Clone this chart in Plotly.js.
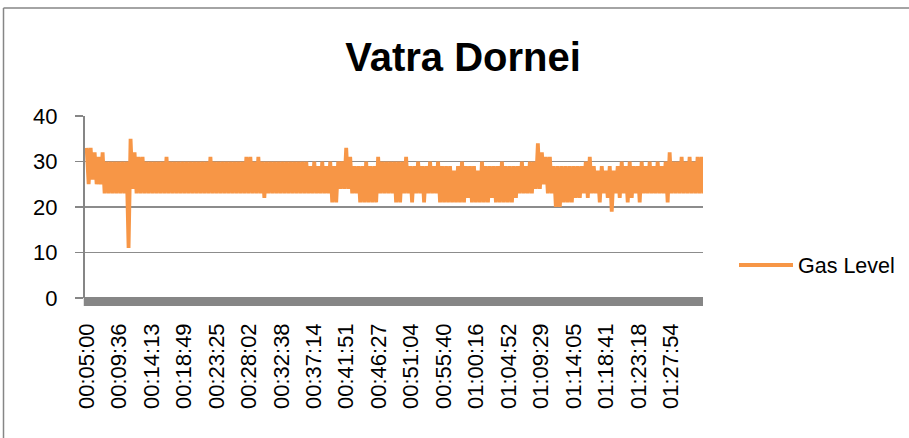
<!DOCTYPE html>
<html>
<head>
<meta charset="utf-8">
<script src="https://cdn.plot.ly/plotly-3.0.1.min.js"></script>
<style>
html,body{margin:0;padding:0;background:#fff;}
#chart{width:909px;height:438px;}
</style>
</head>
<body>
<div id="chart"></div>
<script>
// Chart title and series name
const chartTitle = "Vatra Dornei";
const seriesName = "Gas Level";

// Sample timing (seconds since 00:00:00): first sample and spacing between plotted samples
const startSec = 300;   // 00:05:00
const stepSec = 17;

// Gas level readings
const gasLevel = [
  33,25,33,26,32,25,31,25,32,23,30,23,30,23,30,23,30,23,30,23,
  30,11,35,24,32,23,31,23,31,23,30,23,30,23,30,23,30,23,30,23,
  31,23,30,23,30,23,30,23,30,23,30,23,30,23,30,23,30,23,30,23,
  30,23,31,23,30,23,30,23,30,23,30,23,30,23,30,23,30,23,30,23,
  31,23,31,23,30,23,31,23,30,22,30,23,30,23,30,23,30,23,30,23,
  30,23,30,23,30,23,30,23,30,23,30,23,29,23,30,23,29,23,30,23,
  29,23,30,21,29,21,30,24,30,24,33,24,31,23,29,23,29,21,29,21,
  30,21,29,21,29,21,31,23,30,23,30,23,30,23,30,21,30,21,30,23,
  31,23,29,21,29,23,30,23,29,21,29,23,30,23,29,23,30,21,29,21,
  29,21,29,21,28,21,29,21,30,21,29,22,29,21,29,21,28,21,30,21,
  29,21,29,22,29,21,29,21,30,21,29,21,29,21,29,22,29,23,30,23,
  29,23,30,23,30,24,34,24,32,25,31,23,31,23,29,20,29,20,29,21,
  29,21,29,21,29,22,29,22,29,23,30,22,31,23,29,23,28,21,29,23,
  28,22,29,19,28,23,29,22,30,23,29,21,30,22,29,23,29,21,30,23,
  29,23,30,23,29,23,30,23,29,23,30,21,32,23,30,23,30,23,31,23,
  30,23,31,23,30,23,31,23,31,23
];

// Category axis labels shown on the time axis
const timeLabels = [
  "00:05:00","00:09:36","00:14:13","00:18:49","00:23:25","00:28:02","00:32:38",
  "00:37:14","00:41:51","00:46:27","00:51:04","00:55:40","01:00:16","01:04:52",
  "01:09:29","01:14:05","01:18:41","01:23:18","01:27:54"
];

// Y axis ticks
const yTicks = [0, 10, 20, 30, 40];

function toSec(s){ const p = s.split(":").map(Number); return p[0]*3600 + p[1]*60 + p[2]; }
const xTimes = gasLevel.map((_, i) => startSec + i * stepSec);
const tickVals = timeLabels.map(toSec);

const font = "Liberation Sans, Arial, sans-serif";
const gray = "#868686";

const trace = {
  type: "scatter",
  mode: "lines",
  name: seriesName,
  x: xTimes,
  y: gasLevel,
  line: {color: "#F79646", width: 3.8}
};

// plot area: 85..703 px horizontally, 116..298 px vertically
const plotH = 182;
const layout = {
  width: 909, height: 438,
  margin: {l: 85, r: 206, t: 116, b: 140, pad: 0, autoexpand: false},
  paper_bgcolor: "#fff", plot_bgcolor: "#fff",
  font: {family: font, size: 22, color: "#000"},
  title: {
    text: "<b>" + chartTitle + "</b>",
    font: {family: font, size: 40, color: "#000"},
    xref: "paper", x: (463 - 85) / 618, xanchor: "center",
    yref: "container", y: 1 - 57 / 438, yanchor: "middle",
    automargin: false
  },
  xaxis: {
    type: "linear",
    range: [286, 5548],
    tickvals: tickVals,
    ticktext: timeLabels,
    tickangle: -90,
    ticks: "",
    showgrid: false,
    zeroline: false,
    showline: false,
    automargin: false,
    ticklabelstandoff: 20,
    tickfont: {family: font, size: 22, color: "#000"}
  },
  yaxis: {
    range: [0, 40],
    tickvals: yTicks,
    ticks: "outside",
    ticklen: 8,
    tickwidth: 1.3,
    tickcolor: gray,
    showline: true,
    linecolor: gray,
    linewidth: 2,
    showgrid: true,
    gridcolor: "#8c8c8c",
    gridwidth: 1.3,
    zeroline: false,
    automargin: false,
    ticklabelstandoff: 13,
    tickfont: {family: font, size: 22, color: "#000"}
  },
  showlegend: true,
  legend: {
    x: (734 - 85) / 618, xanchor: "left",
    y: (298 - 265) / plotH, yanchor: "middle",
    itemwidth: 54,
    font: {family: font, size: 21.5, color: "#000"},
    bgcolor: "rgba(0,0,0,0)"
  },
  shapes: [
    // dense category tick band under the x axis
    {type: "rect", xref: "paper", yref: "paper", x0: -0.002, x1: 1, y0: -8 / plotH, y1: 1 / plotH,
     fillcolor: gray, line: {width: 0}, layer: "above"},
    // chart frame (left and top edges)
    {type: "line", xref: "paper", yref: "paper", x0: (3.5 - 85) / 618, x1: (3.5 - 85) / 618,
     y0: (298 - 8) / plotH, y1: (298 - 445) / plotH, line: {color: gray, width: 1.5}},
    {type: "line", xref: "paper", yref: "paper", x0: (3.5 - 85) / 618, x1: (915 - 85) / 618,
     y0: (298 - 8) / plotH, y1: (298 - 8) / plotH, line: {color: gray, width: 1.5}}
  ]
};

Plotly.newPlot("chart", [trace], layout, {displayModeBar: false, staticPlot: true});
</script>
</body>
</html>
